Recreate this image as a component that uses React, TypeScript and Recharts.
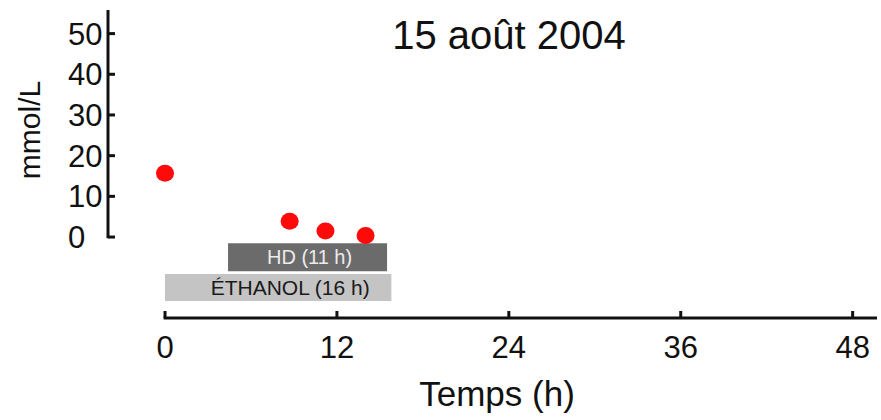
import React from 'react';
import { ComposedChart, XAxis, YAxis, Scatter, ReferenceArea, ReferenceLine } from 'recharts';

const times = [0, 8.7, 11.2, 14.0];
const concentrations = [15.7, 3.9, 1.5, 0.4];
const xTicks = [0, 12, 24, 36, 48];
const yTicks = [0, 10, 20, 30, 40, 50];
const treatmentLabels = ['HD (11 h)', 'ÉTHANOL (16 h)'];
const treatmentStart = [4.4, 0];
const treatmentEnd = [15.5, 15.8];

const FONT = '"Liberation Sans", Arial, sans-serif';
const X_DOMAIN: [number, number] = [-3.98, 49.7];
const Y_DOMAIN: [number, number] = [-19.9, 55.8];

const points = times.map((t, i) => ({ t, c: concentrations[i] }));

const XTick = (props: any) => {
  const { x, y, payload } = props;
  return (
    <g>
      <line x1={x} y1={y} x2={x} y2={y - 7} stroke="#111" strokeWidth={3} />
      <text x={x} y={y + 40} textAnchor="middle" fontSize={31} fontFamily={FONT} fill="#111">
        {payload.value}
      </text>
    </g>
  );
};

const YTick = (props: any) => {
  const { x, y, payload } = props;
  return (
    <g>
      <line x1={x} y1={y} x2={x + 7} y2={y} stroke="#111" strokeWidth={3} />
      <text x={x - 40} y={y + 11} textAnchor="start" fontSize={31} fontFamily={FONT} fill="#111">
        {payload.value}
      </text>
    </g>
  );
};

const Dot = (props: any) => {
  const { cx, cy } = props;
  return <ellipse cx={cx} cy={cy} rx={9} ry={8.5} fill="#ff0a0a" />;
};

const laneY = [
  [-8.4, -1.5],
  [-15.7, -9.1],
];
const laneFill = ['#6b6b6b', '#c4c4c4'];
const laneText = ['#ececec', '#1a1a1a'];
const laneFont = [20, 21];
const laneDx = [2, 12];

const BarLabel = (props: any) => {
  const { viewBox, value, fill, fontSize, dx } = props;
  const { x, y, width, height } = viewBox;
  return (
    <text
      x={x + width / 2 + dx}
      y={y + height / 2}
      textAnchor="middle"
      dominantBaseline="central"
      fontSize={fontSize}
      fontFamily={FONT}
      fill={fill}
    >
      {value}
    </text>
  );
};

export default function App() {
  return (
    <div style={{ position: 'absolute', left: 0, top: 0, width: 881, height: 420, background: '#fff' }}>
      <ComposedChart
        width={881}
        height={420}
        data={points}
        margin={{ top: 10, right: 4, bottom: 42, left: 68 }}
      >
        <XAxis
          type="number"
          dataKey="t"
          domain={X_DOMAIN}
          allowDataOverflow
          ticks={xTicks}
          interval={0}
          axisLine={false}
          tickLine={false}
          tickSize={0}
          tickMargin={0}
          height={60}
          tick={<XTick />}
        />
        <YAxis
          type="number"
          dataKey="c"
          domain={Y_DOMAIN}
          allowDataOverflow
          ticks={yTicks}
          interval={0}
          axisLine={false}
          tickLine={false}
          tickSize={0}
          tickMargin={0}
          width={40}
          tick={<YTick />}
        />
        {treatmentLabels.map((lab, i) => (
          <ReferenceArea
            key={lab}
            x1={treatmentStart[i]}
            x2={treatmentEnd[i]}
            y1={laneY[i][0]}
            y2={laneY[i][1]}
            fill={laneFill[i]}
            fillOpacity={1}
            stroke="none"
            ifOverflow="visible"
            label={<BarLabel value={lab} fill={laneText[i]} fontSize={laneFont[i]} dx={laneDx[i]} />}
          />
        ))}
        <ReferenceLine
          segment={[{ x: X_DOMAIN[0], y: -0.3 }, { x: X_DOMAIN[0], y: Y_DOMAIN[1] }]}
          stroke="#111"
          strokeWidth={3}
          ifOverflow="visible"
        />
        <ReferenceLine
          segment={[{ x: -0.1, y: Y_DOMAIN[0] }, { x: X_DOMAIN[1], y: Y_DOMAIN[0] }]}
          stroke="#111"
          strokeWidth={3}
          ifOverflow="visible"
        />
        <Scatter data={points} dataKey="c" shape={<Dot />} isAnimationActive={false} />
      </ComposedChart>
      <svg
        width={881}
        height={420}
        style={{ position: 'absolute', left: 0, top: 0, pointerEvents: 'none' }}
      >
        <text x={509} y={49} textAnchor="middle" fontSize={40} fontFamily={FONT} fill="#111">
          15 août 2004
        </text>
        <text x={497} y={406} textAnchor="middle" fontSize={35} fontFamily={FONT} fill="#111">
          Temps (h)
        </text>
        <text
          x={40}
          y={130}
          textAnchor="middle"
          fontSize={30}
          fontFamily={FONT}
          fill="#111"
          transform="rotate(-90 40 130)"
        >
          mmol/L
        </text>
      </svg>
    </div>
  );
}
